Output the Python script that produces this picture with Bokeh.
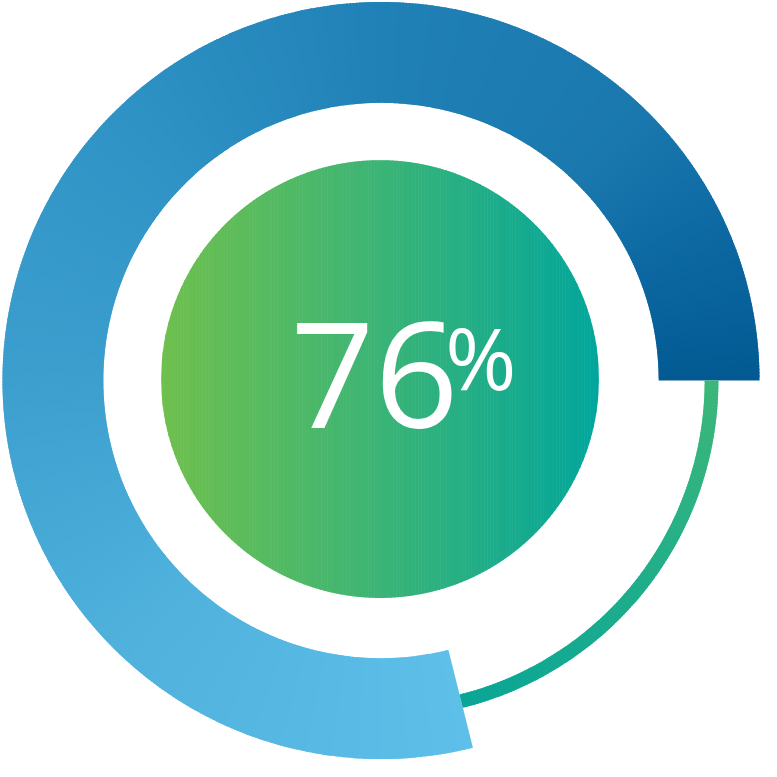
import numpy as np
from bokeh.plotting import figure
from bokeh.models import ColumnDataSource
from bokeh.core.properties import value
from bokeh.embed import file_html
from bokeh.resources import INLINE

# ---------------- data ----------------
value_text = ["76"]          # big number in the centre
suffix_text = ["%"]          # superscript sign
ring_shares = [78.9, 21.1]   # share of the circle drawn thick (filled) / thin (remaining), as drawn

# ---------------- styles ----------------
W = 761                      # figure size in px (fits the 777 window with 8px margin)
S = W / 777.0                # px per data unit
CX, CY = 388.5, 389.0        # ring centre (data units, y up)
R_OUT, R_IN = 386.5, 283.5   # thick arc
R_THIN_OUT, R_THIN_IN = 344.5, 330.5
CORE_CX, CORE_CY, R_CORE = 387.5, 390.5, 223.5

ring_stops_deg = [0, 20, 45, 90, 135, 180, 225, 284]
ring_stops_col = ["#035a93", "#0b66a0", "#1a78ae", "#2081b6", "#2f93c5", "#3c9fce", "#4fb1dc", "#5ec0e9"]
thin_stops_col = ["#0aa597", "#1fae8b", "#3db779"]   # from end of filled arc back to the start
core_stops_col = ["#6fc04d", "#3bb476", "#02a69c"]   # left -> right


def hex2rgb(h):
    h = h.lstrip("#")
    return np.array([int(h[i:i + 2], 16) for i in (0, 2, 4)], dtype=float)


def interp_colors(pos, stops_pos, stops_col):
    cols = np.array([hex2rgb(c) for c in stops_col])
    out = []
    for t in pos:
        rgb = [np.interp(t, stops_pos, cols[:, k]) for k in range(3)]
        out.append("#%02x%02x%02x" % tuple(int(round(v)) for v in rgb))
    return out


p = figure(width=W, height=W, x_range=(0, 777), y_range=(0, 777),
           output_backend="svg", toolbar_location=None, min_border=0)
p.axis.visible = False
p.grid.visible = False
p.outline_line_color = None
p.background_fill_color = "white"
p.border_fill_color = "white"

total = float(sum(ring_shares))
filled_deg = 360.0 * ring_shares[0] / total

# ---- thick arc (angular gradient) ----
step = 0.5
n = int(np.ceil(filled_deg / step))
starts = np.array([i * step for i in range(n)])
ends = np.minimum(starts + step + 0.35, filled_deg)
mids = (starts + np.minimum(starts + step, filled_deg)) / 2
thick = ColumnDataSource(dict(
    s=np.radians(starts), e=np.radians(ends),
    c=interp_colors(mids, ring_stops_deg, ring_stops_col)))
p.annular_wedge(x=CX, y=CY, inner_radius=R_IN, outer_radius=R_OUT,
                start_angle="s", end_angle="e", direction="anticlock",
                fill_color="c", line_color=None, source=thick)

# ---- thin arc (remaining share) ----
rest_deg = 360.0 - filled_deg
m = int(np.ceil(rest_deg / step))
ts = np.array([filled_deg + i * step for i in range(m)])
te = np.minimum(ts + step + 0.35, 360.0)
tm = (ts + np.minimum(ts + step, 360.0)) / 2
thin = ColumnDataSource(dict(
    s=np.radians(ts), e=np.radians(te),
    c=interp_colors(tm, [filled_deg, (filled_deg + 360) / 2, 360.0], thin_stops_col)))
p.annular_wedge(x=CX, y=CY, inner_radius=R_THIN_IN, outer_radius=R_THIN_OUT,
                start_angle="s", end_angle="e", direction="anticlock",
                fill_color="c", line_color=None, source=thin)

# ---- centre disc (horizontal gradient) ----
dx = 1.5
xs_all, ys_all, cols = [], [], []
x0s = np.arange(-R_CORE, R_CORE, dx)
for x0 in x0s:
    x1 = min(x0 + dx + 0.6, R_CORE)
    pts_x = np.linspace(x0, x1, 4)
    h = np.sqrt(np.maximum(R_CORE ** 2 - pts_x ** 2, 0))
    xs_all.append(list(CORE_CX + np.concatenate([pts_x, pts_x[::-1]])))
    ys_all.append(list(CORE_CY + np.concatenate([h, -h[::-1]])))
    cols.append((x0 + dx / 2 + R_CORE) / (2 * R_CORE))
core = ColumnDataSource(dict(xs=xs_all, ys=ys_all,
                             c=interp_colors(cols, [0, 0.5, 1], core_stops_col)))
p.patches(xs="xs", ys="ys", fill_color="c", line_color=None, source=core)

# ---- labels ----
num_src = ColumnDataSource(dict(x=[296.0], y=[777 - 383.0], t=value_text))
p.text(x="x", y="y", text="t", source=num_src, text_color="white",
       text_font=value("Open Sans"), text_font_size="%dpx" % round(150 * S),
       text_align="left", text_baseline="alphabetic")
pct_src = ColumnDataSource(dict(x=[454.0], y=[777 - 363.0], t=suffix_text))
p.text(x="x", y="y", text="t", source=pct_src, text_color="white",
       text_font=value("Open Sans"), text_font_size="%dpx" % round(88 * S),
       text_align="left", text_baseline="alphabetic")

open("out.html", "w").write(file_html(p, INLINE))
